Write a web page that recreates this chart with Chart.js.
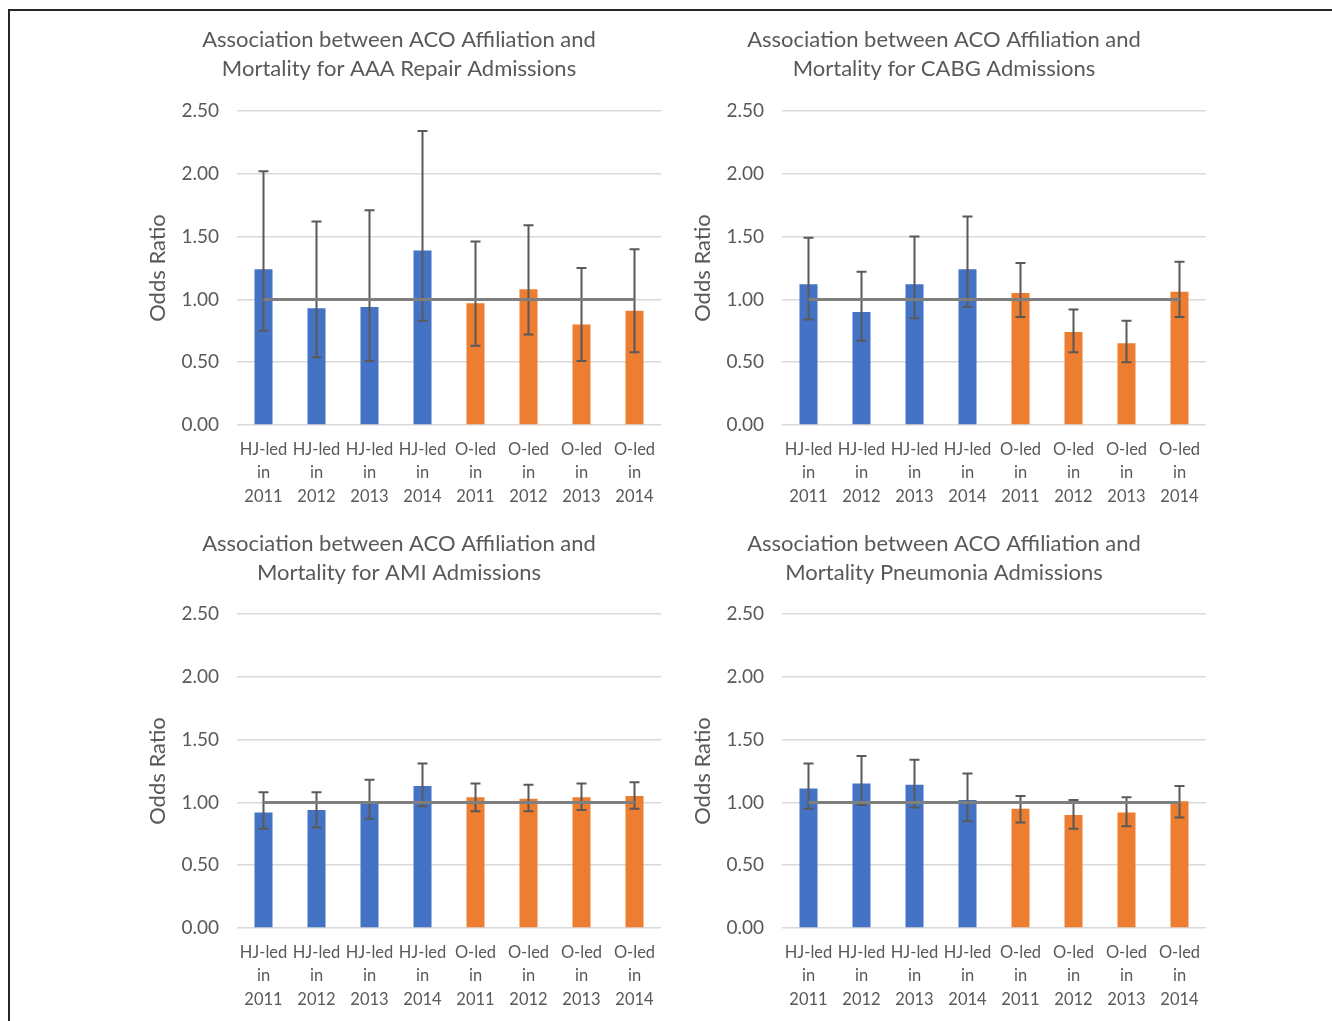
<!DOCTYPE html>
<html>
<head>
<meta charset="utf-8">
<script src="https://cdn.jsdelivr.net/npm/chart.js@4.4.1/dist/chart.umd.min.js"></script>
<style>
  body { margin: 0; background: #fff; width: 1332px; height: 1021px; overflow: hidden; position: relative; }
  #frame { position: absolute; left: 8px; top: 9px; width: 1400px; height: 1100px;
           border-top: 2px solid #262626; border-left: 2px solid #262626; }
  .panel { position: absolute; width: 560px; height: 500px; }
</style>
</head>
<body>
<div id="frame"></div>
<div class="panel" style="left:130px;top:19px"><canvas id="aaa"></canvas></div>
<div class="panel" style="left:675px;top:19px"><canvas id="cabg"></canvas></div>
<div class="panel" style="left:130px;top:522px"><canvas id="ami"></canvas></div>
<div class="panel" style="left:675px;top:522px"><canvas id="pna"></canvas></div>
<script>
// Categories: hospital-led (HJ-led) and other-led (O-led) ACOs by year
const categories = [
  ["HJ-led", "in", "2011"], ["HJ-led", "in", "2012"], ["HJ-led", "in", "2013"], ["HJ-led", "in", "2014"],
  ["O-led", "in", "2011"], ["O-led", "in", "2012"], ["O-led", "in", "2013"], ["O-led", "in", "2014"]
];
const yTicks = [0, 0.5, 1.0, 1.5, 2.0, 2.5];
const referenceOR = 1.0;

// AAA repair
const aaaOR    = [1.24, 0.93, 0.94, 1.39, 0.97, 1.08, 0.80, 0.91];
const aaaLower = [0.75, 0.54, 0.51, 0.83, 0.63, 0.72, 0.51, 0.58];
const aaaUpper = [2.02, 1.62, 1.71, 2.34, 1.46, 1.59, 1.25, 1.40];

// CABG
const cabgOR    = [1.12, 0.90, 1.12, 1.24, 1.05, 0.74, 0.65, 1.06];
const cabgLower = [0.84, 0.67, 0.85, 0.94, 0.86, 0.58, 0.50, 0.86];
const cabgUpper = [1.49, 1.22, 1.50, 1.66, 1.29, 0.92, 0.83, 1.30];

// AMI
const amiOR    = [0.92, 0.94, 0.99, 1.13, 1.04, 1.03, 1.04, 1.05];
const amiLower = [0.79, 0.80, 0.87, 0.97, 0.93, 0.93, 0.94, 0.95];
const amiUpper = [1.08, 1.08, 1.18, 1.31, 1.15, 1.14, 1.15, 1.16];

// Pneumonia
const pnaOR    = [1.11, 1.15, 1.14, 1.02, 0.95, 0.90, 0.92, 1.01];
const pnaLower = [0.95, 0.98, 0.96, 0.85, 0.84, 0.79, 0.81, 0.88];
const pnaUpper = [1.31, 1.37, 1.34, 1.23, 1.05, 1.02, 1.04, 1.13];

const BLUE = '#4472C4', ORANGE = '#ED7D31', TEXT = '#595959';
const FONT = 'Lato, "Liberation Sans", sans-serif';

// Confidence-interval whiskers drawn right after the bars (before the reference line)
const errorBars = {
  id: 'errorBars',
  afterDatasetDraw(chart, args, opts) {
    if (args.index !== 0) return;
    const { ctx, scales: { x, y } } = chart;
    ctx.save();
    ctx.strokeStyle = '#595959';
    ctx.lineWidth = 2;
    ctx.lineCap = 'butt';
    opts.lower.forEach((lo, i) => {
      const px = x.getPixelForValue(i);
      const yl = y.getPixelForValue(lo);
      const yh = y.getPixelForValue(opts.upper[i]);
      ctx.beginPath();
      ctx.moveTo(px, yl); ctx.lineTo(px, yh);
      ctx.moveTo(px - 5, yl); ctx.lineTo(px + 5, yl);
      ctx.moveTo(px - 5, yh); ctx.lineTo(px + 5, yh);
      ctx.stroke();
    });
    ctx.restore();
  }
};

function makeChart(id, titleLines, values, lower, upper, titleShift) {
  new Chart(document.getElementById(id), {
    type: 'bar',
    data: {
      labels: categories,
      datasets: [
        {
          type: 'bar',
          data: values,
          order: 2,
          backgroundColor: categories.map(c => c[0] === 'HJ-led' ? BLUE : ORANGE),
          categoryPercentage: 1.0,
          barPercentage: 0.34
        },
        {
          type: 'line',
          data: categories.map(() => referenceOR),
          order: 1,
          borderColor: '#7F7F7F',
          borderWidth: 3,
          pointRadius: 0,
          fill: false
        }
      ]
    },
    options: {
      responsive: true,
      maintainAspectRatio: false,
      animation: false,
      events: [],
      layout: { padding: { left: 7, right: 29, top: 0, bottom: 0 } },
      plugins: {
        legend: { display: false },
        tooltip: { enabled: false },
        title: {
          display: true,
          text: titleLines,
          color: TEXT,
          font: { family: FONT, size: 22, weight: 'normal', lineHeight: 1.318 },
          padding: { top: 5.5 + titleShift, bottom: 28.5 - titleShift }
        },
        errorBars: { lower, upper }
      },
      scales: {
        x: {
          grid: { display: false, drawTicks: false },
          border: { display: false },
          ticks: {
            color: TEXT, autoSkip: false, maxRotation: 0, padding: 13,
            font: { family: FONT, size: 16.5, lineHeight: 1.42 }
          },
          afterFit(s) { s.height = 94; }
        },
        y: {
          min: 0, max: 2.5,
          afterBuildTicks(s) { s.ticks = yTicks.map(v => ({ value: v })); },
          grid: { color: '#D9D9D9', lineWidth: 1.5, drawTicks: false },
          border: { display: false },
          ticks: {
            color: TEXT, padding: 18,
            font: { family: FONT, size: 19 },
            callback: v => Number(v).toFixed(2)
          },
          title: {
            display: true, text: 'Odds Ratio', color: TEXT,
            font: { family: FONT, size: 22 },
            padding: { top: 8, bottom: 0 }
          },
          afterFit(s) { s.width = 100; }
        }
      }
    },
    plugins: [errorBars]
  });
}

makeChart('aaa',  ['Association between ACO Affiliation and', 'Mortality for AAA Repair Admissions'], aaaOR, aaaLower, aaaUpper, 1);
makeChart('cabg', ['Association between ACO Affiliation and', 'Mortality for CABG Admissions'], cabgOR, cabgLower, cabgUpper, 1);
makeChart('ami',  ['Association between ACO Affiliation and', 'Mortality for AMI Admissions'], amiOR, amiLower, amiUpper, 2);
makeChart('pna',  ['Association between ACO Affiliation and', 'Mortality Pneumonia Admissions'], pnaOR, pnaLower, pnaUpper, 2);
</script>
</body>
</html>
